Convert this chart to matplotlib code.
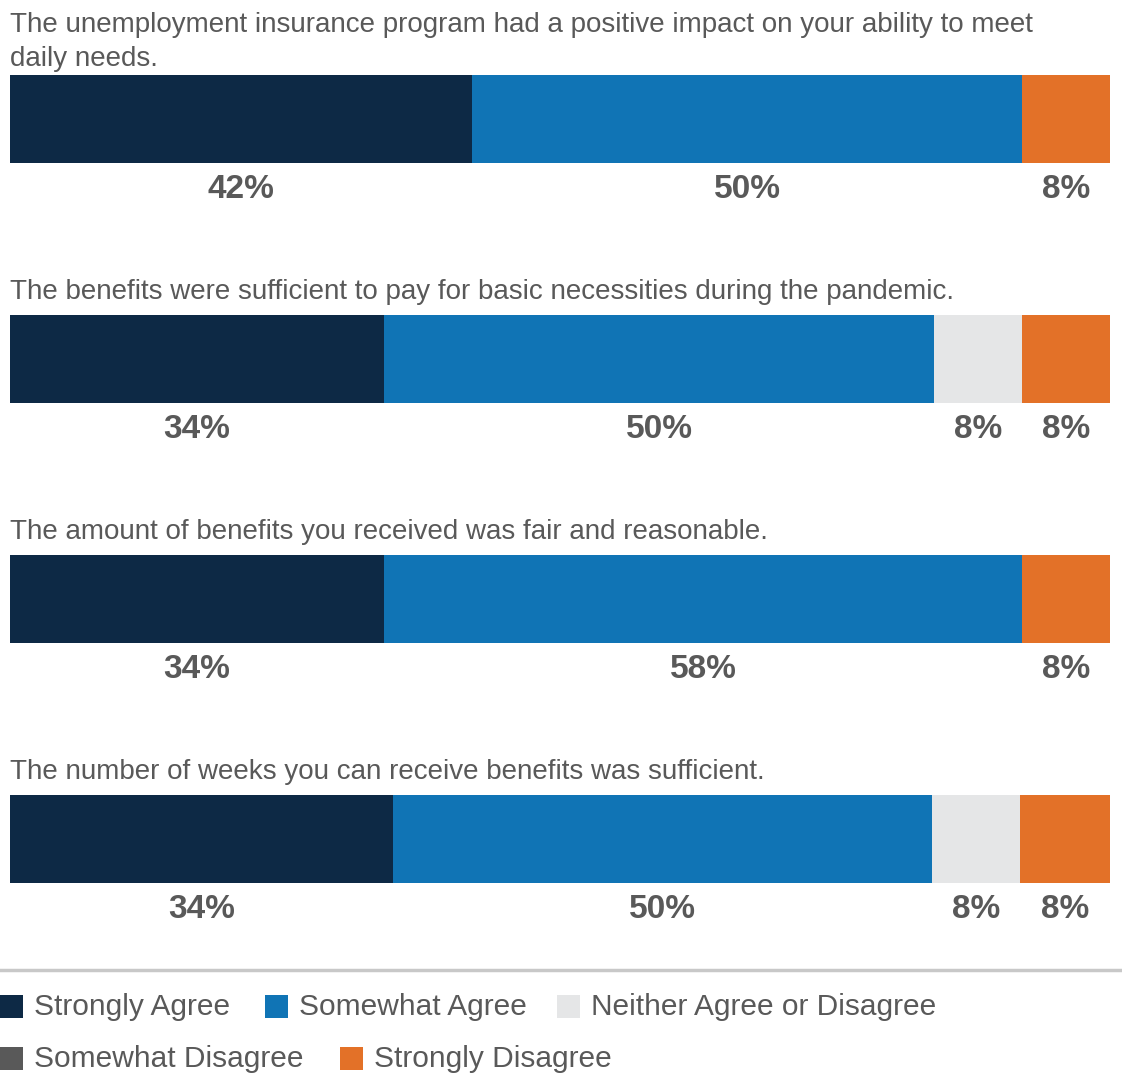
import matplotlib
matplotlib.use("Agg")
import matplotlib.pyplot as plt
from matplotlib.patches import Rectangle
from matplotlib.lines import Line2D

# ---------------- data ----------------
questions = [
    "The unemployment insurance program had a positive impact on your ability to meet\ndaily needs.",
    "The benefits were sufficient to pay for basic necessities during the pandemic.",
    "The amount of benefits you received was fair and reasonable.",
    "The number of weeks you can receive benefits was sufficient.",
]
categories = ["Strongly Agree", "Somewhat Agree", "Neither Agree or Disagree",
              "Somewhat Disagree", "Strongly Disagree"]
strongly_agree = [42, 34, 34, 34.8]
somewhat_agree = [50, 50, 58, 49]
neither = [0, 8, 0, 8]
somewhat_disagree = [0, 0, 0, 0]
strongly_disagree = [8, 8, 8, 8.2]
labels_sa = ["42%", "34%", "34%", "34%"]
labels_swa = ["50%", "50%", "58%", "50%"]
labels_n = ["", "8%", "", "8%"]
labels_swd = ["", "", "", ""]
labels_sd = ["8%", "8%", "8%", "8%"]

colors = ["#0d2945", "#1074b5", "#e5e6e7", "#595959", "#e37128"]
TEXT = "#595959"
FONT = ["Liberation Sans", "DejaVu Sans"]
plt.rcParams["font.family"] = FONT

W, H = 1122, 1074
fig = plt.figure(figsize=(W / 100, H / 100), dpi=100)

# bars axes: x spans pixels 10..1110, y in "row" units of 240 px, row 0 centred at 119 px
ROW = 240.0
ax = fig.add_axes([10 / W, 0, 1100 / W, 1])
ax.set_xlim(0, 100)
ax.set_ylim((H - 119) / ROW, -119 / ROW)
ax.axis("off")

series = [strongly_agree, somewhat_agree, neither, somewhat_disagree, strongly_disagree]
series_labels = [labels_sa, labels_swa, labels_n, labels_swd, labels_sd]
bar_h = 88 / ROW

for i, q in enumerate(questions):
    left = 0
    for vals, labs, col in zip(series, series_labels, colors):
        v = vals[i]
        if v > 0:
            ax.barh(i, v, left=left, height=bar_h, color=col, edgecolor="none")
            if labs[i]:
                ax.text(left + v / 2, i + bar_h / 2 + 26 / ROW, labs[i], ha="center",
                        va="center", fontsize=24, fontweight="bold", color=TEXT)
        left += v
    gap = 9 if "\n" in q else 16
    ax.text(-0.0, i - bar_h / 2 - gap / ROW, q, ha="left", va="baseline",
            fontsize=20, color=TEXT, linespacing=1.42)

# separator line above legend
fig.add_artist(Line2D([0, 1], [1 - 970 / H, 1 - 970 / H], color="#c8c8c8", lw=2.5))

# legend, flowing in two rows
legend_pos = [(0, 1006), (265, 1006), (557, 1006), (0, 1058), (340, 1058)]
sq = 23
for (px, py), name, col in zip(legend_pos, categories, colors):
    fig.add_artist(Rectangle((px / W, 1 - (py + sq / 2) / H), sq / W, sq / H,
                             facecolor=col, edgecolor="none", transform=fig.transFigure))
    fig.text((px + 34) / W, 1 - (py + 1) / H, name, ha="left", va="center",
             fontsize=21.5, color=TEXT)

fig.savefig("out.png", dpi=100, facecolor="white")
